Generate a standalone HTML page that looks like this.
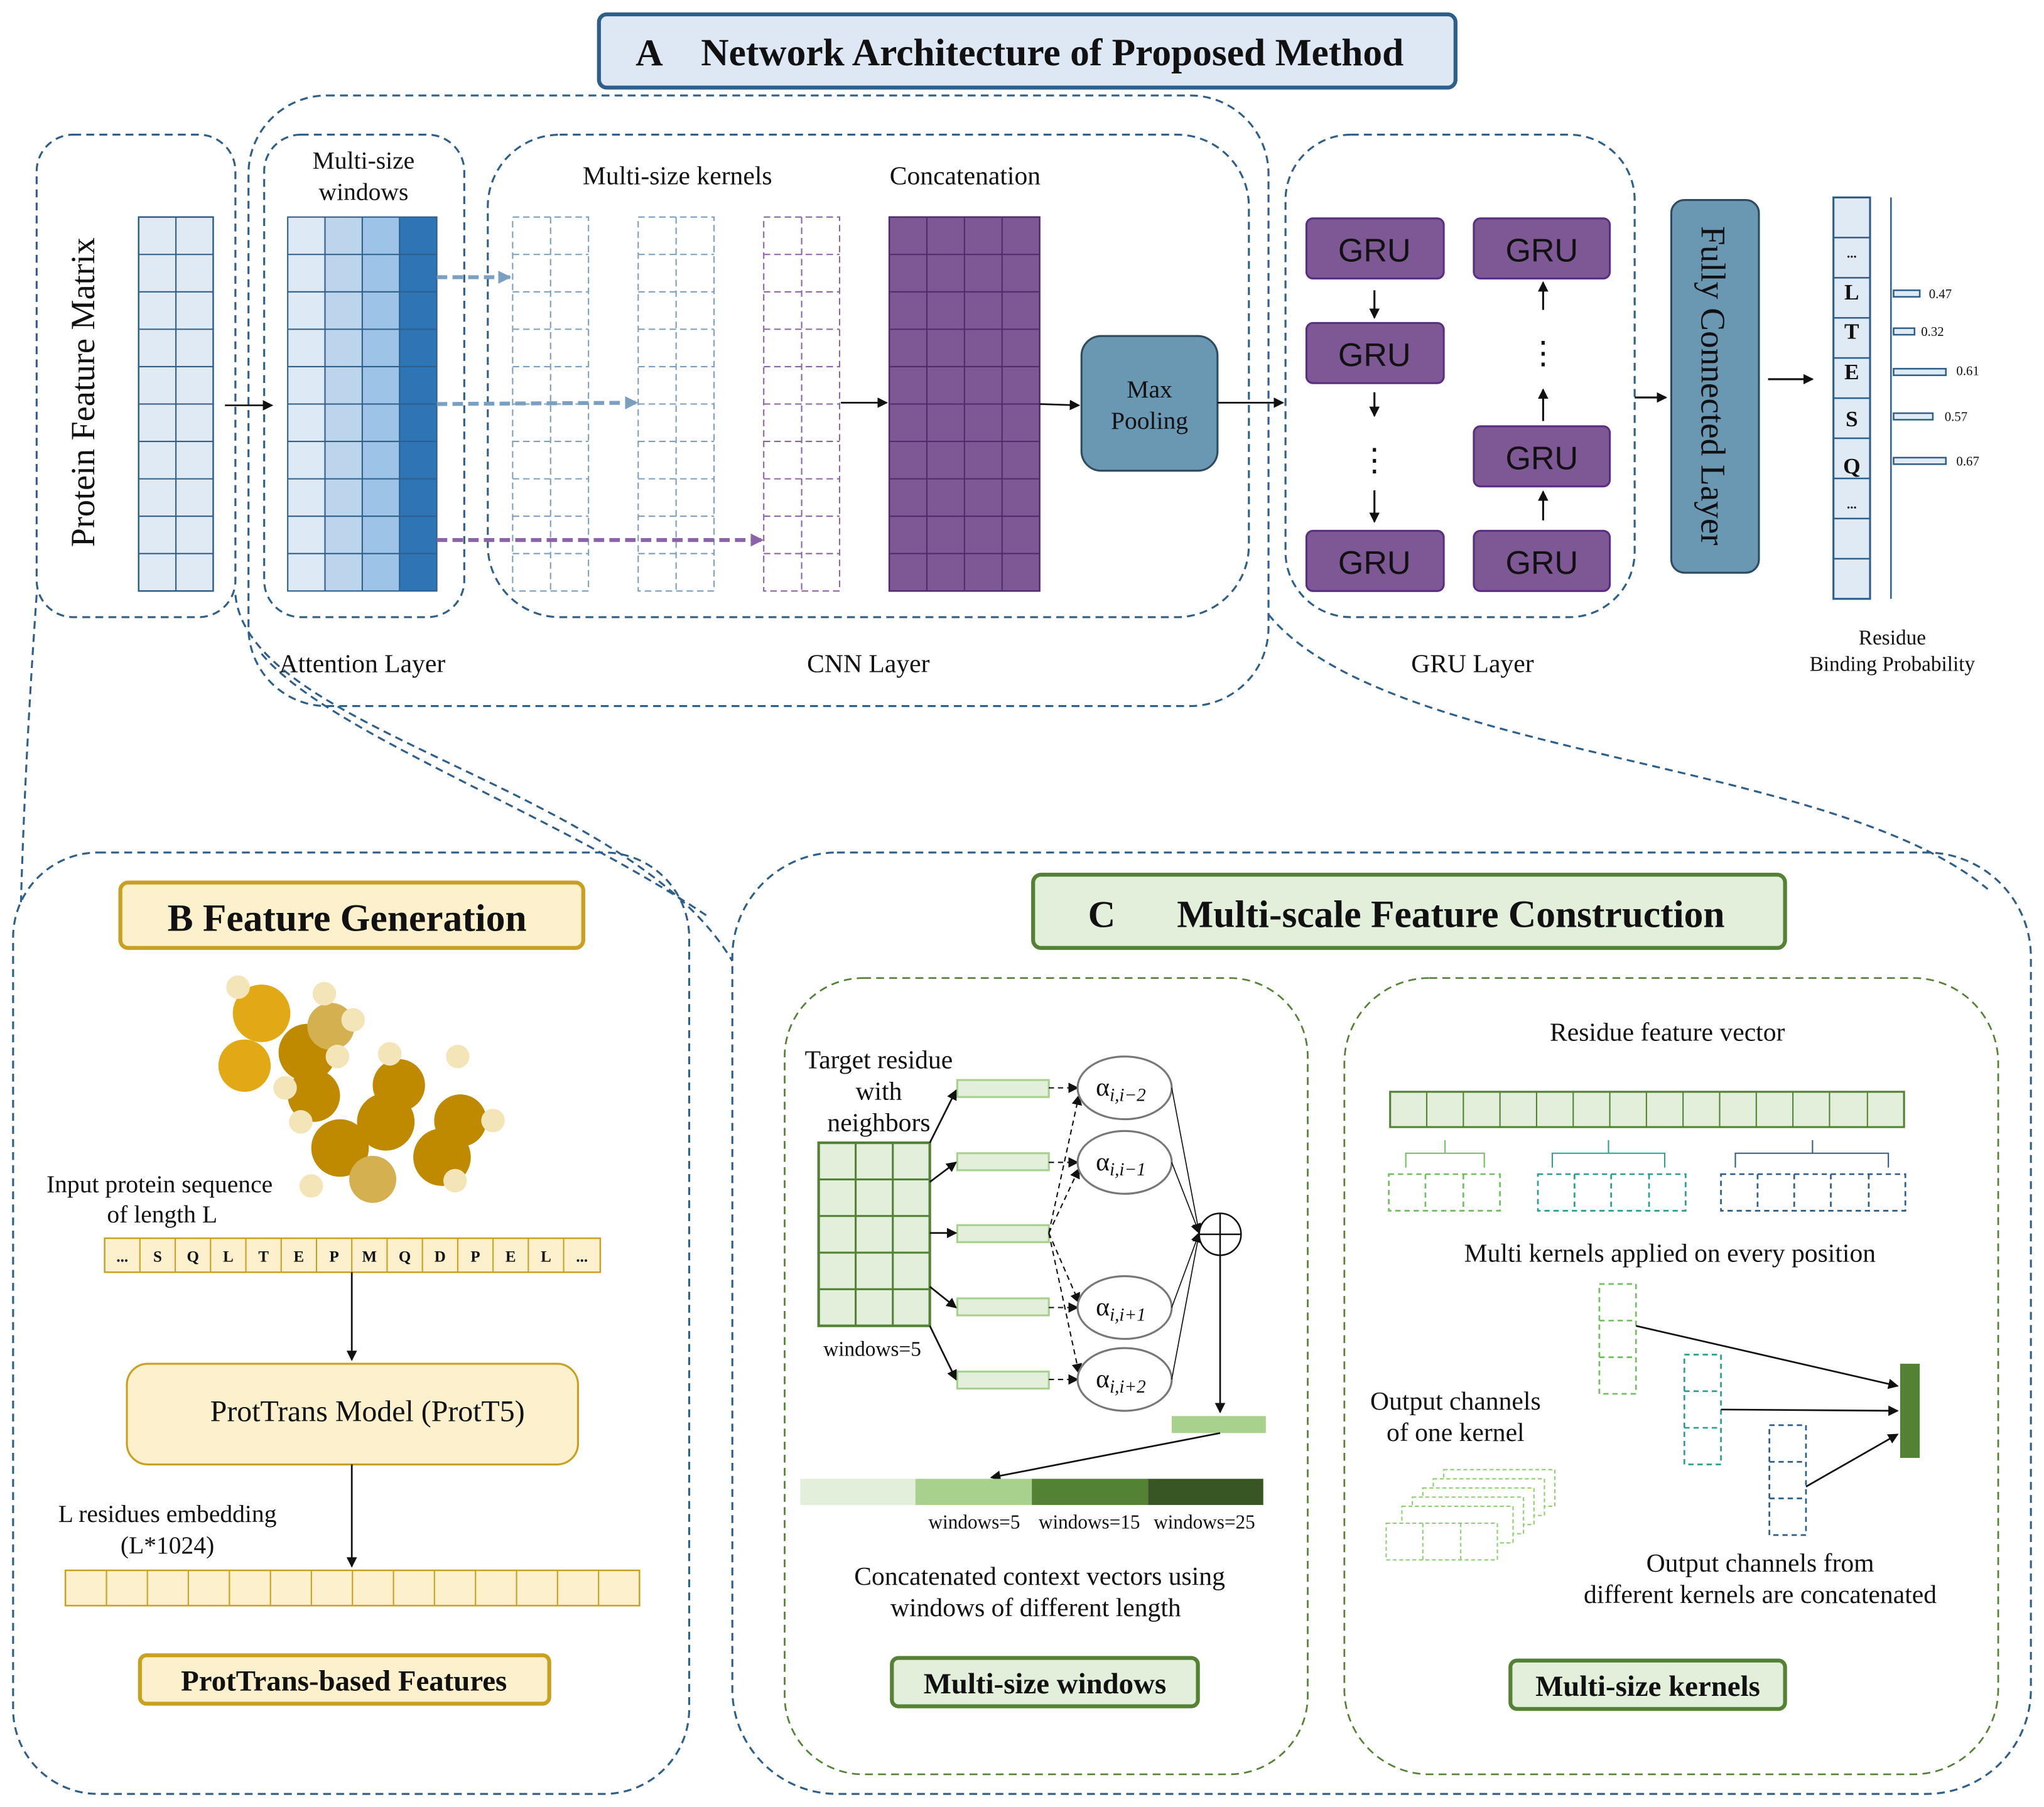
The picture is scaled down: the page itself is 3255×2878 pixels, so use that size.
<!DOCTYPE html>
<html><head><meta charset="utf-8"><style>
html,body{margin:0;padding:0;background:#fff}
svg{display:block}
text{font-family:"Liberation Serif",serif;fill:#111}
</style></head><body>
<svg width="3255" height="2878" viewBox="0 0 1563 1382" xmlns="http://www.w3.org/2000/svg">
<defs>
<marker id="ar" markerWidth="8" markerHeight="8" refX="7" refY="4" orient="auto" markerUnits="userSpaceOnUse"><path d="M0,0 L8,4 L0,8 Z" fill="#111"/></marker>
<marker id="arb" markerWidth="10" markerHeight="10" refX="9" refY="5" orient="auto" markerUnits="userSpaceOnUse"><path d="M0,0 L10,5 L0,10 Z" fill="#7a9fc0"/></marker>
<marker id="arp" markerWidth="10" markerHeight="10" refX="9" refY="5" orient="auto" markerUnits="userSpaceOnUse"><path d="M0,0 L10,5 L0,10 Z" fill="#8a63a8"/></marker>
</defs>
<rect width="1563" height="1382" fill="#fff"/>

<!-- Title A -->
<rect x="458" y="11" width="655" height="56" rx="6" fill="#dde8f4" stroke="#2e5f8a" stroke-width="3"/>
<text x="486" y="50" font-size="29" font-weight="bold">A</text>
<text x="536" y="50" font-size="29.5" font-weight="bold">Network Architecture of Proposed Method</text>

<g fill="none" stroke="#2e5f8a" stroke-width="1.5" stroke-dasharray="6,4">
<rect x="28" y="103" width="152" height="369" rx="28"/>
<rect x="190" y="73" width="780" height="467" rx="60"/>
<rect x="202" y="103" width="153" height="369" rx="28"/>
<rect x="373" y="103" width="582" height="369" rx="55"/>
<rect x="983" y="103" width="267" height="369" rx="50"/>
<rect x="10" y="652" width="517" height="720" rx="65"/>
<rect x="560" y="652" width="993" height="720" rx="80"/>
<path d="M28,455 C22,540 18,620 16,690"/>
<path d="M180,455 C190,560 480,600 560,735"/>
<path d="M200,500 C250,560 420,620 540,700"/>
<path d="M970,470 C1060,580 1400,580 1520,680"/>
</g>

<!-- Protein feature matrix -->
<text transform="translate(72,300) rotate(-90)" font-size="26" text-anchor="middle">Protein Feature Matrix</text>
<rect x="106" y="166" width="57" height="286" stroke="#2e5f8a" stroke-width="1.2" fill="#dfeaf5"/>
<g stroke="#2e5f8a" stroke-width="1">
<line x1="134.5" y1="166" x2="134.5" y2="452"/>
<path d="M106,194.6H163M106,223.2H163M106,251.8H163M106,280.4H163M106,309H163M106,337.6H163M106,366.2H163M106,394.8H163M106,423.4H163"/>
</g>
<line x1="172" y1="310" x2="208" y2="310" stroke="#111" stroke-width="1.3" marker-end="url(#ar)"/>

<!-- Attention -->
<text x="278" y="129" font-size="19" text-anchor="middle">Multi-size</text>
<text x="278" y="153" font-size="19" text-anchor="middle">windows</text>
<rect x="220" y="166" width="28.5" height="286" fill="#dde9f5"/>
<rect x="248.5" y="166" width="28.5" height="286" fill="#bcd5ec"/>
<rect x="277" y="166" width="28.5" height="286" fill="#9dc3e6"/>
<rect x="305.5" y="166" width="28.5" height="286" fill="#2e75b6"/>
<g stroke="#2e5f8a" stroke-width="1" fill="none">
<rect x="220" y="166" width="114" height="286"/>
<line x1="248.5" y1="166" x2="248.5" y2="452"/><line x1="277" y1="166" x2="277" y2="452"/><line x1="305.5" y1="166" x2="305.5" y2="452"/>
<path d="M220,194.6H334M220,223.2H334M220,251.8H334M220,280.4H334M220,309H334M220,337.6H334M220,366.2H334M220,394.8H334M220,423.4H334"/>
</g>
<text x="277" y="514" font-size="20" text-anchor="middle">Attention Layer</text>

<!-- CNN kernels -->
<text x="518" y="141" font-size="20" text-anchor="middle">Multi-size kernels</text>
<text x="738" y="141" font-size="20" text-anchor="middle">Concatenation</text>
<g fill="none" stroke-dasharray="5,3" stroke-width="1">
<g stroke="#7a9fc0">
<rect x="392" y="166" width="58" height="286"/><line x1="421" y1="166" x2="421" y2="452"/>
<rect x="488" y="166" width="58" height="286"/><line x1="517" y1="166" x2="517" y2="452"/>
<path d="M392,194.6H450M392,223.2H450M392,251.8H450M392,280.4H450M392,309H450M392,337.6H450M392,366.2H450M392,394.8H450M392,423.4H450"/>
<path d="M488,194.6H546M488,223.2H546M488,251.8H546M488,280.4H546M488,309H546M488,337.6H546M488,366.2H546M488,394.8H546M488,423.4H546"/>
</g>
<g stroke="#8a63a8">
<rect x="584" y="166" width="58" height="286"/><line x1="613" y1="166" x2="613" y2="452"/>
<path d="M584,194.6H642M584,223.2H642M584,251.8H642M584,280.4H642M584,309H642M584,337.6H642M584,366.2H642M584,394.8H642M584,423.4H642"/>
</g>
</g>
<g stroke-width="3" stroke-dasharray="8,4" fill="none">
<line x1="334" y1="212" x2="390" y2="212" stroke="#7a9fc0" marker-end="url(#arb)"/>
<line x1="334" y1="309" x2="487" y2="308" stroke="#7a9fc0" marker-end="url(#arb)"/>
<line x1="334" y1="413" x2="583" y2="413" stroke="#8a63a8" marker-end="url(#arp)"/>
</g>
<line x1="643" y1="308" x2="678" y2="308" stroke="#111" stroke-width="1.3" marker-end="url(#ar)"/>
<rect x="680" y="166" width="115" height="286" fill="#7e5795" stroke="#4e2c6a" stroke-width="1.2"/>
<g stroke="#4e2c6a" stroke-width="1">
<path d="M708.75,166V452M737.5,166V452M766.25,166V452"/>
<path d="M680,194.6H795M680,223.2H795M680,251.8H795M680,280.4H795M680,309H795M680,337.6H795M680,366.2H795M680,394.8H795M680,423.4H795"/>
</g>
<line x1="795" y1="309" x2="825" y2="310" stroke="#111" stroke-width="1.3" marker-end="url(#ar)"/>
<rect x="827" y="257" width="104" height="103" rx="15" fill="#6a97b2" stroke="#2f4b60" stroke-width="1.5"/>
<text x="879" y="304" font-size="19" text-anchor="middle">Max</text>
<text x="879" y="328" font-size="19" text-anchor="middle">Pooling</text>
<text x="664" y="514" font-size="20" text-anchor="middle">CNN Layer</text>
<line x1="931" y1="308" x2="981" y2="308" stroke="#111" stroke-width="1.3" marker-end="url(#ar)"/>

<!-- GRU -->
<g fill="#7e5795" stroke="#5a2e80" stroke-width="1.5">
<rect x="999" y="167" width="105" height="46" rx="5"/>
<rect x="999" y="247" width="105" height="46" rx="5"/>
<rect x="999" y="406" width="105" height="46" rx="5"/>
<rect x="1127" y="167" width="104" height="46" rx="5"/>
<rect x="1127" y="326" width="104" height="46" rx="5"/>
<rect x="1127" y="406" width="104" height="46" rx="5"/>
</g>
<g font-size="25" text-anchor="middle">
<text x="1051" y="200" style="font-family:'Liberation Sans',sans-serif">GRU</text>
<text x="1051" y="280" style="font-family:'Liberation Sans',sans-serif">GRU</text>
<text x="1051" y="439" style="font-family:'Liberation Sans',sans-serif">GRU</text>
<text x="1179" y="200" style="font-family:'Liberation Sans',sans-serif">GRU</text>
<text x="1179" y="359" style="font-family:'Liberation Sans',sans-serif">GRU</text>
<text x="1179" y="439" style="font-family:'Liberation Sans',sans-serif">GRU</text>
</g>
<g stroke="#111" stroke-width="1.5">
<line x1="1051" y1="222" x2="1051" y2="243" marker-end="url(#ar)"/>
<line x1="1051" y1="300" x2="1051" y2="318" marker-end="url(#ar)"/>
<line x1="1051" y1="375" x2="1051" y2="399" marker-end="url(#ar)"/>
<line x1="1180" y1="398" x2="1180" y2="376" marker-end="url(#ar)"/>
<line x1="1180" y1="322" x2="1180" y2="298" marker-end="url(#ar)"/>
<line x1="1180" y1="237" x2="1180" y2="216" marker-end="url(#ar)"/>
</g>
<text x="1051" y="360" font-size="24" text-anchor="middle">⋮</text>
<text x="1180" y="278" font-size="24" text-anchor="middle">⋮</text>
<text x="1126" y="514" font-size="20" text-anchor="middle">GRU Layer</text>
<line x1="1250" y1="304" x2="1274" y2="304" stroke="#111" stroke-width="1.5" marker-end="url(#ar)"/>
<rect x="1278" y="153" width="67" height="285" rx="10" fill="#6a97b2" stroke="#2f4b60" stroke-width="1.5"/>
<text transform="translate(1301,295) rotate(90)" font-size="26.5" text-anchor="middle">Fully Connected Layer</text>
<line x1="1352" y1="290" x2="1386" y2="290" stroke="#111" stroke-width="1.5" marker-end="url(#ar)"/>

<!-- output column -->
<rect x="1402" y="151" width="28" height="307" fill="#dfeaf5" stroke="#2e5f8a" stroke-width="1.5"/>
<g stroke="#2e5f8a" stroke-width="1.2"><path d="M1402,181.7H1430M1402,212.4H1430M1402,243.1H1430M1402,273.8H1430M1402,304.5H1430M1402,335.2H1430M1402,365.9H1430M1402,396.6H1430M1402,427.3H1430"/></g>
<g font-size="17" font-weight="bold" text-anchor="middle">
<text x="1416" y="197" font-size="10">...</text>
<text x="1416" y="229">L</text><text x="1416" y="259">T</text><text x="1416" y="290">E</text><text x="1416" y="326">S</text><text x="1416" y="362">Q</text>
<text x="1416" y="389" font-size="10">...</text>
</g>
<line x1="1446" y1="151" x2="1446" y2="458" stroke="#2e5f8a" stroke-width="1.2"/>
<g fill="#dfeaf5" stroke="#2e5f8a" stroke-width="1.2">
<rect x="1448" y="222" width="20" height="5"/><rect x="1448" y="251" width="16" height="5"/><rect x="1448" y="282" width="40" height="5"/><rect x="1448" y="316" width="30" height="5"/><rect x="1448" y="350" width="40" height="5"/>
</g>
<g font-size="10"><text x="1475" y="228">0.47</text><text x="1469" y="257">0.32</text><text x="1496" y="287">0.61</text><text x="1487" y="322">0.57</text><text x="1496" y="356">0.67</text></g>
<text x="1447" y="493" font-size="16" text-anchor="middle">Residue</text>
<text x="1447" y="513" font-size="16" text-anchor="middle">Binding Probability</text>

<!-- B -->
<rect x="92" y="675" width="354" height="50" rx="6" fill="#fdf0cc" stroke="#c9a020" stroke-width="3"/>
<text x="128" y="712" font-size="29.5" font-weight="bold">B  Feature Generation</text>
<g>
<circle cx="200" cy="775" r="22" fill="#e0a915"/>
<circle cx="235" cy="805" r="22" fill="#c08a00"/>
<circle cx="253" cy="785" r="18" fill="#d5b050"/>
<circle cx="187" cy="815" r="20" fill="#e0a915"/>
<circle cx="240" cy="838" r="20" fill="#c08a00"/>
<circle cx="305" cy="830" r="20" fill="#c08a00"/>
<circle cx="295" cy="858" r="22" fill="#c08a00"/>
<circle cx="352" cy="857" r="20" fill="#c08a00"/>
<circle cx="260" cy="878" r="22" fill="#c08a00"/>
<circle cx="338" cy="885" r="22" fill="#c08a00"/>
<circle cx="285" cy="902" r="18" fill="#d5b050"/>
<g fill="#f3e5b8"><circle cx="182" cy="755" r="9"/><circle cx="248" cy="760" r="9"/><circle cx="270" cy="780" r="9"/><circle cx="258" cy="808" r="9"/><circle cx="218" cy="832" r="9"/><circle cx="230" cy="858" r="9"/><circle cx="298" cy="806" r="9"/><circle cx="350" cy="808" r="9"/><circle cx="377" cy="857" r="9"/><circle cx="238" cy="907" r="9"/><circle cx="348" cy="903" r="9"/></g>
</g>
<text x="122" y="912" font-size="19" text-anchor="middle">Input protein sequence</text>
<text x="124" y="935" font-size="19" text-anchor="middle">of length L</text>
<rect x="80" y="947" width="379" height="26" fill="#fdf0cc" stroke="#c9a020" stroke-width="1.2"/>
<g stroke="#c9a020" stroke-width="1"><path d="M107,947V973M134,947V973M161,947V973M188,947V973M215,947V973M242,947V973M269,947V973M296,947V973M323,947V973M350,947V973M377,947V973M404,947V973M431,947V973"/></g>
<g font-size="12" font-weight="bold" text-anchor="middle">
<text x="93.5" y="965">...</text><text x="120.5" y="965">S</text><text x="147.5" y="965">Q</text><text x="174.5" y="965">L</text><text x="201.5" y="965">T</text><text x="228.5" y="965">E</text><text x="255.5" y="965">P</text><text x="282.5" y="965">M</text><text x="309.5" y="965">Q</text><text x="336.5" y="965">D</text><text x="363.5" y="965">P</text><text x="390.5" y="965">E</text><text x="417.5" y="965">L</text><text x="445" y="965">...</text>
</g>
<line x1="269" y1="973" x2="269" y2="1040" stroke="#111" stroke-width="1.3" marker-end="url(#ar)"/>
<rect x="97" y="1043" width="345" height="77" rx="16" fill="#fdf0cc" stroke="#c9a020" stroke-width="1.5"/>
<text x="281" y="1087" font-size="23" text-anchor="middle">ProtTrans Model (ProtT5)</text>
<line x1="269" y1="1120" x2="269" y2="1198" stroke="#111" stroke-width="1.3" marker-end="url(#ar)"/>
<text x="128" y="1164" font-size="19" text-anchor="middle">L residues embedding</text>
<text x="128" y="1188" font-size="19" text-anchor="middle">(L*1024)</text>
<rect x="50" y="1201" width="439" height="27" fill="#fdf0cc" stroke="#c9a020" stroke-width="1.2"/>
<g stroke="#c9a020" stroke-width="1"><path d="M81.4,1201V1228M112.7,1201V1228M144,1201V1228M175.4,1201V1228M206.8,1201V1228M238.1,1201V1228M269.5,1201V1228M300.9,1201V1228M332.2,1201V1228M363.6,1201V1228M395,1201V1228M426.3,1201V1228M457.7,1201V1228"/></g>
<rect x="107" y="1266" width="313" height="37" rx="5" fill="#fdf0cc" stroke="#c9a020" stroke-width="3"/>
<text x="263" y="1293" font-size="22.5" font-weight="bold" text-anchor="middle">ProtTrans-based Features</text>

<!-- C -->
<rect x="790" y="669" width="575" height="56" rx="6" fill="#e2efda" stroke="#548235" stroke-width="3"/>
<text x="832" y="709" font-size="29" font-weight="bold">C</text>
<text x="900" y="709" font-size="29.5" font-weight="bold">Multi-scale Feature Construction</text>
<g fill="none" stroke="#548235" stroke-width="1.3" stroke-dasharray="6,4">
<rect x="600" y="748" width="400" height="609" rx="60"/>
<rect x="1028" y="748" width="500" height="609" rx="65"/>
</g>
<text x="672" y="817" font-size="20" text-anchor="middle">Target residue</text>
<text x="672" y="841" font-size="20" text-anchor="middle">with</text>
<text x="672" y="865" font-size="20" text-anchor="middle">neighbors</text>
<rect x="626" y="874" width="85" height="140" fill="#e2efda" stroke="#548235" stroke-width="2"/>
<g stroke="#548235" stroke-width="1.5"><path d="M654.3,874V1014M682.7,874V1014M626,902H711M626,930H711M626,958H711M626,986H711"/></g>
<text x="667" y="1037" font-size="16" text-anchor="middle">windows=5</text>
<g fill="#e2efda" stroke="#a9d18e" stroke-width="1.5">
<rect x="732" y="826" width="70" height="13"/><rect x="732" y="882" width="70" height="13"/><rect x="732" y="937" width="70" height="13"/><rect x="732" y="993" width="70" height="13"/><rect x="732" y="1049" width="70" height="13"/>
</g>
<g stroke="#111" stroke-width="1.3">
<line x1="711" y1="874" x2="731" y2="834" marker-end="url(#ar)"/>
<line x1="711" y1="904" x2="731" y2="889" marker-end="url(#ar)"/>
<line x1="711" y1="943" x2="731" y2="943" marker-end="url(#ar)"/>
<line x1="711" y1="984" x2="731" y2="1000" marker-end="url(#ar)"/>
<line x1="711" y1="1014" x2="731" y2="1055" marker-end="url(#ar)"/>
</g>
<g stroke="#111" stroke-width="1" stroke-dasharray="4,3">
<line x1="802" y1="832" x2="824" y2="832" marker-end="url(#ar)"/>
<line x1="802" y1="889" x2="824" y2="889" marker-end="url(#ar)"/>
<line x1="802" y1="1000" x2="824" y2="1000" marker-end="url(#ar)"/>
<line x1="802" y1="1055" x2="824" y2="1055" marker-end="url(#ar)"/>
<line x1="802" y1="943" x2="825" y2="838" marker-end="url(#ar)"/>
<line x1="802" y1="943" x2="825" y2="894" marker-end="url(#ar)"/>
<line x1="802" y1="943" x2="825" y2="996" marker-end="url(#ar)"/>
<line x1="802" y1="943" x2="825" y2="1050" marker-end="url(#ar)"/>
</g>
<g fill="#fff" stroke="#777" stroke-width="1.5">
<ellipse cx="860" cy="832" rx="36" ry="24"/><ellipse cx="860" cy="889" rx="36" ry="24"/><ellipse cx="860" cy="1000" rx="36" ry="24"/><ellipse cx="860" cy="1055" rx="36" ry="24"/>
</g>
<g font-size="20"><text x="838" y="838">α<tspan font-size="14" dy="4" font-style="italic">i,i−2</tspan></text>
<text x="838" y="895">α<tspan font-size="14" dy="4" font-style="italic">i,i−1</tspan></text>
<text x="838" y="1006">α<tspan font-size="14" dy="4" font-style="italic">i,i+1</tspan></text>
<text x="838" y="1061">α<tspan font-size="14" dy="4" font-style="italic">i,i+2</tspan></text></g>
<g stroke="#111" stroke-width="0.8">
<line x1="896" y1="832" x2="917" y2="943" marker-end="url(#ar)"/>
<line x1="896" y1="889" x2="917" y2="943" marker-end="url(#ar)"/>
<line x1="896" y1="1000" x2="917" y2="943" marker-end="url(#ar)"/>
<line x1="896" y1="1055" x2="917" y2="943" marker-end="url(#ar)"/>
</g>
<circle cx="933" cy="944" r="16" fill="#fff" stroke="#111" stroke-width="1.2"/>
<path d="M917,944H949M933,928V960" stroke="#111" stroke-width="1.2"/>
<line x1="933" y1="960" x2="933" y2="1080" stroke="#111" stroke-width="1.3" marker-end="url(#ar)"/>
<rect x="896" y="1083" width="72" height="13" fill="#a9d18e"/>
<line x1="933" y1="1096" x2="758" y2="1130" stroke="#111" stroke-width="1.3" marker-end="url(#ar)"/>
<rect x="612" y="1131" width="88" height="20" fill="#e2efda"/>
<rect x="700" y="1131" width="89" height="20" fill="#a9d18e"/>
<rect x="789" y="1131" width="89" height="20" fill="#548235"/>
<rect x="878" y="1131" width="88" height="20" fill="#375623"/>
<g font-size="15" text-anchor="middle"><text x="745" y="1169">windows=5</text><text x="833" y="1169">windows=15</text><text x="921" y="1169">windows=25</text></g>
<text x="795" y="1212" font-size="20" text-anchor="middle">Concatenated context vectors using</text>
<text x="792" y="1236" font-size="20" text-anchor="middle">windows of different length</text>
<rect x="682" y="1268" width="234" height="37" rx="5" fill="#e2efda" stroke="#548235" stroke-width="3"/>
<text x="799" y="1295" font-size="22.5" font-weight="bold" text-anchor="middle">Multi-size windows</text>

<text x="1275" y="796" font-size="20" text-anchor="middle">Residue feature vector</text>
<rect x="1063" y="835" width="393" height="27" fill="#e2efda" stroke="#548235" stroke-width="1.5"/>
<g stroke="#548235" stroke-width="1"><path d="M1091,835V862M1119,835V862M1147,835V862M1175,835V862M1203,835V862M1231,835V862M1259,835V862M1287,835V862M1315,835V862M1343,835V862M1371,835V862M1399,835V862M1428,835V862"/></g>
<g fill="none" stroke-width="1">
<path d="M1075,893V882H1135V893M1105,882V872" stroke="#70c060"/>
<path d="M1187,893V882H1273V893M1230,882V872" stroke="#2aa090"/>
<path d="M1327,893V882H1444V893M1386,882V872" stroke="#2e5f8a"/>
</g>
<g fill="none" stroke-dasharray="4,3" stroke-width="1.3">
<rect x="1062" y="898" width="85" height="28" stroke="#70c060"/><path d="M1090,898V926M1119,898V926" stroke="#70c060"/>
<rect x="1176" y="898" width="113" height="28" stroke="#2aa090"/><path d="M1204,898V926M1232,898V926M1261,898V926" stroke="#2aa090"/>
<rect x="1316" y="898" width="141" height="28" stroke="#2e5f8a"/><path d="M1344,898V926M1372,898V926M1400,898V926M1429,898V926" stroke="#2e5f8a"/>
</g>
<text x="1277" y="965" font-size="20" text-anchor="middle">Multi kernels applied on every position</text>
<g fill="none" stroke-dasharray="4,3" stroke-width="1.3">
<rect x="1223" y="982" width="28" height="84" stroke="#70c060"/><path d="M1223,1010H1251M1223,1038H1251" stroke="#70c060"/>
<rect x="1288" y="1036" width="28" height="84" stroke="#2aa090"/><path d="M1288,1064H1316M1288,1092H1316" stroke="#2aa090"/>
<rect x="1353" y="1090" width="28" height="84" stroke="#2e5f8a"/><path d="M1353,1118H1381M1353,1146H1381" stroke="#2e5f8a"/>
</g>
<rect x="1453" y="1043" width="15" height="72" fill="#548235"/>
<g stroke="#111" stroke-width="1.3">
<line x1="1251" y1="1014" x2="1451" y2="1060" marker-end="url(#ar)"/>
<line x1="1316" y1="1078" x2="1451" y2="1079" marker-end="url(#ar)"/>
<line x1="1381" y1="1137" x2="1451" y2="1097" marker-end="url(#ar)"/>
</g>
<text x="1113" y="1078" font-size="20" text-anchor="middle">Output channels</text>
<text x="1113" y="1102" font-size="20" text-anchor="middle">of one kernel</text>
<g fill="#fff" stroke="#8fcf70" stroke-width="1" stroke-dasharray="3,2">
<rect x="1104" y="1124" width="85" height="28"/>
<rect x="1096" y="1131" width="85" height="28"/>
<rect x="1088" y="1138" width="85" height="28"/>
<rect x="1080" y="1145" width="85" height="28"/>
<rect x="1072" y="1152" width="85" height="28"/>
<rect x="1060" y="1165" width="85" height="28"/>
<path d="M1088,1165V1193M1117,1165V1193"/>
</g>
<text x="1346" y="1202" font-size="20" text-anchor="middle">Output channels from</text>
<text x="1346" y="1226" font-size="20" text-anchor="middle">different kernels are concatenated</text>
<rect x="1155" y="1270" width="210" height="37" rx="5" fill="#e2efda" stroke="#548235" stroke-width="3"/>
<text x="1260" y="1297" font-size="22.5" font-weight="bold" text-anchor="middle">Multi-size kernels</text>
</svg>
</body></html>
